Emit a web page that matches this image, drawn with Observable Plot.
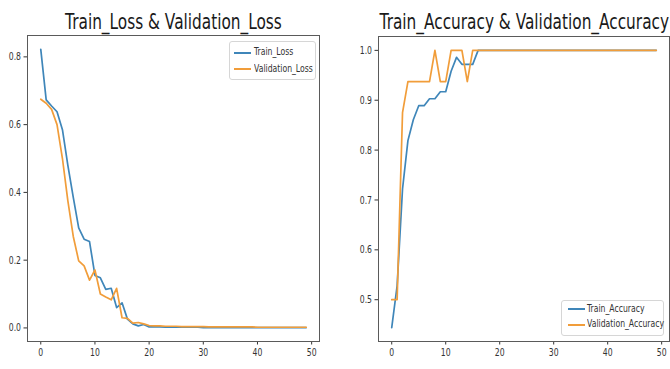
<!DOCTYPE html>
<html>
<head>
<meta charset="utf-8">
<script src="https://cdn.jsdelivr.net/npm/d3@7"></script>
<script src="https://cdn.jsdelivr.net/npm/@observablehq/plot@0.6"></script>
<style>
  html, body { margin: 0; padding: 0; background: #fff; }
  #wrap { position: relative; width: 670px; height: 369px; overflow: hidden; background: #fff; font-family: "DejaVu Sans", sans-serif; }
  .panel { position: absolute; top: 0; }
  .title { position: absolute; font-size: 21px; line-height: 21px; color: #1a1a1a; white-space: nowrap; transform-origin: center; }
  .legend { position: absolute; border: 1px solid #d6d6d6; border-radius: 3px; background: rgba(255,255,255,0.85); box-sizing: border-box; }
  .sw { position: absolute; height: 2px; width: 17px; }
  .lt { position: absolute; font-size: 11px; line-height: 14px; color: #333; white-space: nowrap; transform-origin: left center; transform: scaleX(0.7); }
</style>
</head>
<body>
<div id="wrap"></div>
<script>
// ---- data ----
const epochs = [0,1,2,3,4,5,6,7,8,9,10,11,12,13,14,15,16,17,18,19,20,21,22,23,24,25,26,27,28,29,30,31,32,33,34,35,36,37,38,39,40,41,42,43,44,45,46,47,48,49];
const trainLoss = [0.822,0.673,0.655,0.638,0.585,0.480,0.385,0.295,0.262,0.255,0.155,0.148,0.114,0.117,0.060,0.074,0.026,0.012,0.006,0.010,0.003,0.003,0.003,0.002,0.002,0.002,0.002,0.002,0.002,0.002,0.001,0.001,0.001,0.001,0.001,0.001,0.001,0.001,0.001,0.001,0.001,0.001,0.001,0.001,0.001,0.001,0.001,0.001,0.001,0.001];
const valLoss = [0.675,0.663,0.645,0.600,0.500,0.375,0.270,0.198,0.183,0.141,0.171,0.100,0.091,0.083,0.117,0.030,0.028,0.014,0.016,0.012,0.007,0.006,0.006,0.005,0.005,0.005,0.004,0.004,0.004,0.004,0.004,0.003,0.003,0.003,0.003,0.003,0.003,0.003,0.003,0.003,0.002,0.002,0.002,0.002,0.002,0.002,0.002,0.002,0.002,0.002];
const trainAcc = [0.444,0.528,0.722,0.819,0.861,0.889,0.889,0.903,0.903,0.917,0.917,0.958,0.986,0.972,0.972,0.972,1,1,1,1,1,1,1,1,1,1,1,1,1,1,1,1,1,1,1,1,1,1,1,1,1,1,1,1,1,1,1,1,1,1];
const valAcc = [0.5,0.5,0.875,0.9375,0.9375,0.9375,0.9375,0.9375,1,0.9375,0.9375,1,1,1,0.9375,1,1,1,1,1,1,1,1,1,1,1,1,1,1,1,1,1,1,1,1,1,1,1,1,1,1,1,1,1,1,1,1,1,1,1];
const xTicks = [0,10,20,30,40,50];
const lossTicks = [0.0,0.2,0.4,0.6,0.8];
const accTicks = [0.5,0.6,0.7,0.8,0.9,1.0];
const titles = ["Train_Loss & Validation_Loss", "Train_Accuracy & Validation_Accuracy"];
const lossLabels = ["Train_Loss", "Validation_Loss"];
const accLabels = ["Train_Accuracy", "Validation_Accuracy"];

const BLUE = "#3f86b9";
const ORANGE = "#f19d3a";
const wrap = document.getElementById("wrap");

function panel(opts) {
  const n = epochs.length;
  const yMin = d3.min([...opts.a, ...opts.b]), yMax = d3.max([...opts.a, ...opts.b]);
  const pad = (yMax - yMin) * 0.05;
  const xPad = (n - 1) * 0.05;
  const svg = Plot.plot({
    width: 335, height: 369,
    marginLeft: opts.ml, marginRight: opts.mr, marginTop: opts.mt, marginBottom: opts.mb,
    style: { fontFamily: "DejaVu Sans", fontSize: "11px", color: "#333", background: "transparent" },
    x: { domain: [-xPad, n - 1 + xPad], ticks: xTicks, tickSize: 3.5, tickPadding: 3, label: null, tickFormat: d => String(d) },
    y: { domain: [yMin - pad, yMax + pad], ticks: opts.ticks, tickFormat: d3.format(".1f"), tickSize: 3.5, tickPadding: 3, label: null },
    marks: [
      Plot.frame({ stroke: "#5a5a5a" }),
      Plot.line(epochs, { x: d => d, y: d => opts.a[d], stroke: BLUE, strokeWidth: 1.7 }),
      Plot.line(epochs, { x: d => d, y: d => opts.b[d], stroke: ORANGE, strokeWidth: 1.7 })
    ]
  });
  svg.classList.add("panel");
  svg.style.left = opts.left + "px";
  wrap.appendChild(svg);
  return svg;
}

panel({ a: trainLoss, b: valLoss, ticks: lossTicks, ml: 27, mr: 16, mt: 35, mb: 28, left: 0 });
panel({ a: trainAcc, b: valAcc, ticks: accTicks, ml: 43, mr: 1, mt: 36, mb: 28, left: 335 });

// compress tick text horizontally like the reference
wrap.querySelectorAll("svg text").forEach(t => {
  const len = t.getComputedTextLength();
  t.setAttribute("textLength", (len * 0.7).toFixed(2));
  t.setAttribute("lengthAdjust", "spacingAndGlyphs");
});

function title(text, cx, top, sx) {
  const d = document.createElement("div");
  d.className = "title";
  d.textContent = text;
  wrap.appendChild(d);
  const w = d.getBoundingClientRect().width;
  d.style.left = (cx - w / 2) + "px";
  d.style.top = top + "px";
  d.style.transform = `scaleX(${sx})`;
}
title(titles[0], 173, 11.5, 0.73);
title(titles[1], 524, 12, 0.73);

function legend(labels, left, top, width, height, rows, swx, tx) {
  const box = document.createElement("div");
  box.className = "legend";
  Object.assign(box.style, { left: left + "px", top: top + "px", width: width + "px", height: height + "px" });
  [BLUE, ORANGE].forEach((c, i) => {
    const s = document.createElement("div");
    s.className = "sw";
    Object.assign(s.style, { background: c, left: swx + "px", top: (rows[i] - 1) + "px" });
    box.appendChild(s);
    const t = document.createElement("div");
    t.className = "lt";
    t.textContent = labels[i];
    Object.assign(t.style, { left: tx + "px", top: (rows[i] - 7.5) + "px" });
    box.appendChild(t);
  });
  wrap.appendChild(box);
}
legend(lossLabels, 228.5, 41, 87, 38.5, [10.5, 27], 4, 24);
legend(accLabels, 561, 300, 103, 35.5, [8, 23.5], 5.5, 25);
</script>
</body>
</html>
